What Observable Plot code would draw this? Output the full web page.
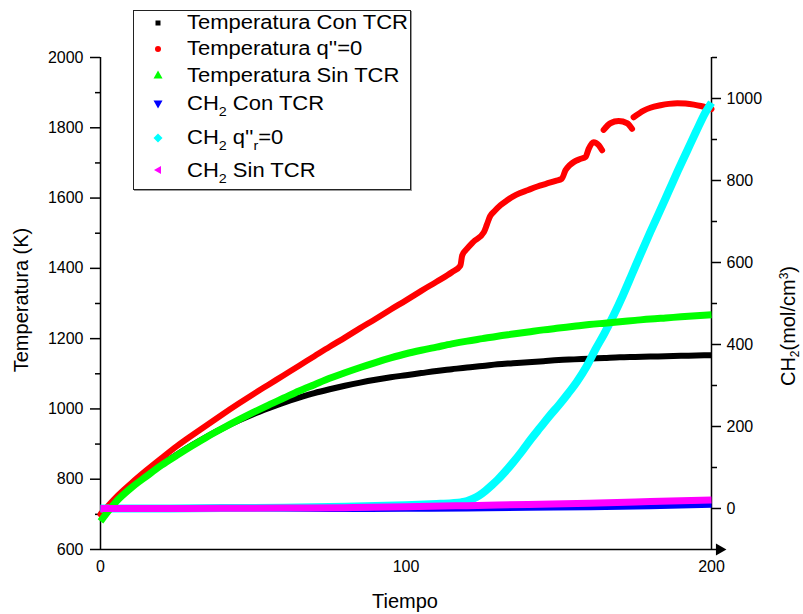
<!DOCTYPE html>
<html><head><meta charset="utf-8">
<script src="https://cdn.jsdelivr.net/npm/d3@7"></script>
<script src="https://cdn.jsdelivr.net/npm/@observablehq/plot@0.6"></script>
<style>
body{margin:0;background:#fff;font-family:"Liberation Sans",Arial,sans-serif;}
#wrap{position:relative;width:803px;height:614px;overflow:hidden;}
#wrap > svg{position:absolute;left:0;top:0;}
.lab{position:absolute;white-space:nowrap;color:#000;line-height:1;}
.rot{transform:translate(-50%,-50%) rotate(-90deg);}
#legbox{position:absolute;left:133px;top:10px;width:276px;height:178px;border:1px solid #222;background:#fff;box-shadow:1px 1px 0 #999;}
.row{position:absolute;left:187px;font-size:20px;line-height:20px;white-space:nowrap;color:#000;transform-origin:0 0;transform:scaleX(1.1);}
.row sub{font-size:13px;vertical-align:-6px;line-height:0;}
.sym{position:absolute;}
</style></head><body><div id="wrap"></div>
<script>
// ---- data ----
const tBase = [0,5,10,15,20,25,30,35,40,45,50,55,60,65,70,75,80,85,90,95,100,105,110,115,120,125,130,135,140,145,150,155,160,165,170,175,180,185,190,195,200];
const tempConTCR = [700,742,778,810,842,870,897,922,945,966,985,1002,1018,1032,1045,1056,1066,1075,1083,1090,1096,1102,1108,1113,1118,1122,1127,1130,1133,1136,1139,1141,1143,1145,1147,1148,1149,1150,1151,1152,1153];
const tempSinTCR = [680,735,775,808,840,868,895,921,945,968,990,1011,1031,1051,1069,1087,1103,1118,1132,1145,1157,1167,1176,1185,1193,1200,1207,1213,1219,1225,1230,1235,1240,1244,1248,1252,1256,1259,1262,1265,1268];
const tRed = [0,5,10,15,20,25,30,35,40,45,50,55,60,65,70,75,80,85,90,95,100,105,110,115,117.8,118.4,120,122,125.5,126.5,127.5,129,131,133,136,140,143,146,149,151,152.2,153.5,155,157,158.8,159.8,161.4,163.1,164.2,164.4,164.7,166.9,169.6,172.4,174,174.2,174.5,177.8,180,183.3,186,188.8,191.5,194.2,196.5,198.6,200];
const tempQ0 = [700,748,788,825,860,894,925,955,985,1014,1042,1069,1096,1123,1150,1177,1203,1230,1256,1283,1309,1336,1362,1389,1408,1437,1456,1475,1503,1525,1548,1563,1580,1593,1609,1623,1633,1641,1649,1655,1679,1693,1703,1711,1717,1740,1759,1750,1736,null,1794,1813,1819,1813,1797,null,1830,1849,1857,1864,1868,1870,1869,1866,1862,1857,1853];
const tCH2 = [0,20,40,60,80,100,120,140,160,180,200];
const ch2ConTCR = [-1,-1.5,-2,-2.5,-2.5,-2,-1,0.5,2,4.5,8];
const ch2SinTCR = [0,0,0.5,1,2,4,7,10,13,17,21];
const tCyan = [0,20,40,60,80,100,110,115,118,120,122,124,126,128,130,132,135,138,141,144,147,150,153,156,159,162,165,168,171,174,177,180,183,186,189,192,195,198,200];
const ch2Q0 = [0,0,1,2,4,8,11,13,15,18,24,32,43,56,70,86,112,140,170,198,226,252,280,310,345,388,428,472,520,572,624,675,724,774,824,872,920,966,990];

const tempTicks = [600,800,1000,1200,1400,1600,1800,2000];
const tempMinor = [700,900,1100,1300,1500,1700,1900];
const ch2Ticks = [0,200,400,600,800,1000];
const ch2Minor = [100,300,500,700,900,1100];
const timeTicks = [0,100,200];

const legendLabels = ["Temperatura Con TCR","Temperatura q''=0","Temperatura Sin TCR","CH<sub>2</sub> Con TCR","CH<sub>2</sub> q''<sub>r</sub>=0","CH<sub>2</sub> Sin TCR"];
const legendColors = ["#000000","#ff0000","#00ff00","#0000ff","#00ffff","#ff00ff"];
const legendSymbols = ["square","circle","up","down","diamond","left"];

// secondary (right) axis mapping: CH2 [-100,1100] onto Temperatura [600,2000]
const toT = c => 600 + (c + 100) * (1400 / 1200);
const fromT = T => (T - 600) * (1200 / 1400) - 100;

const font = '"Liberation Sans", Arial, sans-serif';
const chart = Plot.plot({
  width: 803, height: 614,
  marginLeft: 100, marginRight: 92, marginTop: 57, marginBottom: 65,
  x: {domain: [0, 200], axis: null},
  y: {domain: [600, 2000], axis: null},
  style: {fontFamily: font, fontSize: "16px", color: "#000", background: "transparent", overflow: "visible"},
  marks: [
    Plot.axisY(tempTicks, {anchor: "left", tickSize: 10, tickPadding: 7, strokeWidth: 1.5, fontSize: 16, label: null, tickFormat: d => String(d)}),
    Plot.axisY(tempMinor, {anchor: "left", tickSize: 5, strokeWidth: 1.5, label: null, tickFormat: () => ""}),
    Plot.axisY(ch2Ticks.map(toT), {anchor: "right", tickSize: 9, tickPadding: 6, strokeWidth: 1.5, fontSize: 16, label: null, tickFormat: d => String(Math.round(fromT(d)))}),
    Plot.axisY(ch2Minor.map(toT), {anchor: "right", tickSize: 5, strokeWidth: 1.5, label: null, tickFormat: () => ""}),
    Plot.axisX(timeTicks, {anchor: "bottom", tickSize: 0, tickPadding: 11, fontSize: 16, label: null, tickFormat: d => String(d)}),
    Plot.ruleX([0], {y1: 600, y2: 2000, stroke: "#000", strokeWidth: 1.5}),
    Plot.ruleX([200], {y1: 600, y2: 2000, stroke: "#000", strokeWidth: 1.5}),
    Plot.ruleY([600], {x1: 0, x2: 203, stroke: "#000", strokeWidth: 1.5}),
    Plot.dot([600], {x: () => 202.6, y: d => d, symbol: "triangle", rotate: 90, r: 4.5, fill: "#000", stroke: "none"}),
    // data
    Plot.line(tBase, {x: tBase, y: tempConTCR, stroke: "#000000", strokeWidth: 6, curve: "monotone-x", strokeLinecap: "butt"}),
    Plot.line(tRed, {x: tRed, y: tempQ0, stroke: "#ff0000", strokeWidth: 6, curve: "monotone-x", strokeLinecap: "round"}),
    Plot.line(tCH2, {x: tCH2, y: ch2ConTCR.map(toT), stroke: "#0000ff", strokeWidth: 5, curve: "monotone-x", strokeLinecap: "butt"}),
    Plot.line(tCyan, {x: tCyan, y: ch2Q0.map(toT), stroke: "#00ffff", strokeWidth: 8, curve: "monotone-x", strokeLinecap: "butt"}),
    Plot.line(tBase, {x: tBase, y: tempSinTCR, stroke: "#00ff00", strokeWidth: 7, curve: "monotone-x", strokeLinecap: "butt"}),
    Plot.line(tCH2, {x: tCH2, y: ch2SinTCR.map(toT), stroke: "#ff00ff", strokeWidth: 7, curve: "monotone-x", strokeLinecap: "butt"})
  ]
});

const wrap = document.getElementById("wrap");
wrap.appendChild(chart);

function addLabel(html, cls, css) {
  const d = document.createElement("div");
  d.className = "lab " + cls;
  d.innerHTML = html;
  Object.assign(d.style, css);
  wrap.appendChild(d);
  return d;
}
addLabel("Temperatura (K)", "rot", {left: "21px", top: "300px", fontSize: "20px"});
addLabel("CH<sub style='font-size:12px;vertical-align:-4px;line-height:0'>2</sub>(mol/cm<sup style='font-size:12px;vertical-align:7px;line-height:0'>3</sup>)", "rot", {left: "788px", top: "326px", fontSize: "20px"});
addLabel("Tiempo", "", {left: "405px", top: "591px", fontSize: "20px", transform: "translateX(-50%)"});

// legend
const box = document.createElement("div");
box.id = "legbox";
wrap.appendChild(box);
const rowBaselines = [29.3, 55, 81.7, 110, 144.3, 176.7];
const symPaths = {
  square: '<rect x="-2.5" y="-2.5" width="5" height="5"/>',
  circle: '<circle r="3"/>',
  up: '<polygon points="0,-4.5 4.5,3.5 -4.5,3.5"/>',
  down: '<polygon points="0,4.5 4.5,-3.5 -4.5,-3.5"/>',
  diamond: '<polygon points="0,-4.5 4.5,0 0,4.5 -4.5,0"/>',
  left: '<polygon points="-4,0 3,-4 3,4"/>'
};
legendLabels.forEach((lab, i) => {
  const r = document.createElement("div");
  r.className = "row";
  r.innerHTML = lab;
  r.style.top = (rowBaselines[i] - 17) + "px";
  wrap.appendChild(r);
  const s = document.createElementNS("http://www.w3.org/2000/svg", "svg");
  s.setAttribute("class", "sym");
  s.setAttribute("width", 14); s.setAttribute("height", 14);
  s.setAttribute("viewBox", "-7 -7 14 14");
  s.style.left = (158 - 7) + "px";
  s.style.top = (rowBaselines[i] - 6.5 - 7) + "px";
  s.innerHTML = '<g fill="' + legendColors[i] + '">' + symPaths[legendSymbols[i]] + '</g>';
  wrap.appendChild(s);
});
</script></body></html>
